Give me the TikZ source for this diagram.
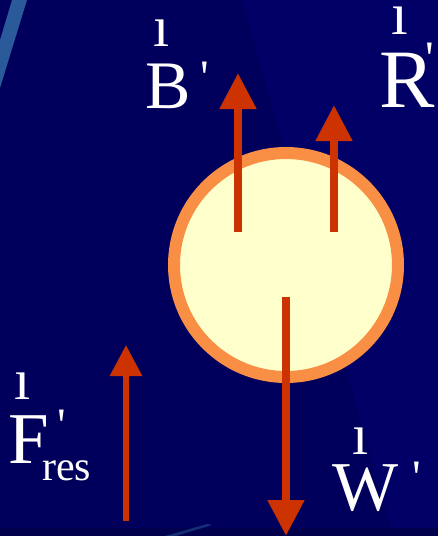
\documentclass[tikz,border=0pt]{standalone}
\usepackage{fontspec}
\setmainfont{Liberation Serif}
\newfontfamily\primefont{Liberation Serif}[Ligatures=TeXOff]
\usepackage{tikz}
\usetikzlibrary{
    arrows.meta
}
\tikzset{
  ball/.style    = {circle, draw=ballEdge, fill=ballFill, line width=12pt,
                    minimum size=224pt, inner sep=0pt},
  force/.style   = {-{Triangle[width=35pt,length=36pt]}, line width=8pt, forceRed},
  sforce/.style  = {-{Triangle[width=31pt,length=31pt]}, line width=6pt, forceRed},
  lbl/.style     = {text=white, inner sep=0pt, anchor=base west},
  vecbar/.style  = {text=white, inner sep=0pt, anchor=south,
                    font=\fontsize{58}{58}\selectfont},
  prime/.style   = {text=white, inner sep=0pt, anchor=north,
                    font=\primefont\fontsize{48}{48}\selectfont}
}
\definecolor{navy}{RGB}{0,0,102}
\definecolor{navyDark}{RGB}{0,0,92}
\definecolor{navyDeep}{RGB}{0,0,76}
\definecolor{streak}{RGB}{42,90,154}
\definecolor{ballEdge}{RGB}{249,143,69}
\definecolor{ballFill}{RGB}{255,255,204}
\definecolor{forceRed}{RGB}{204,51,0}

\begin{document}
\begin{tikzpicture}[x=1pt,y=-1pt]
% background
\fill[navy] (0,0) rectangle (438,536);
\fill[navyDark] (0,0) -- (242,0) -- (393,536) -- (0,536) -- cycle;
\fill[navyDeep] (0,528) rectangle (438,536);
\fill[streak] (12,0) -- (27,0) -- (0,88) -- (0,40) -- cycle;
\fill[streak, opacity=0.5] (165,536) -- (207,524) -- (212,525) -- (176,536) -- cycle;
\useasboundingbox (0,0) rectangle (438,536);

\node[ball] (ball) at (286,265) {};

\coordinate (Bfoot) at (238,232);
\coordinate (Btip)  at (238,73);
\coordinate (Rfoot) at (334,232);
\coordinate (Rtip)  at (334,105);
\coordinate (Wfoot) at (286,297);
\coordinate (Wtip)  at (286,536);
\coordinate (Ffoot) at (126,521);
\coordinate (Ftip)  at (126,345);
\draw[force] (Bfoot) -- (Btip);
\draw[force] (Rfoot) -- (Rtip);
\draw[force] (Wfoot) -- (Wtip);
\draw[sforce] (Ffoot) -- (Ftip);

% labels
\node[lbl, font=\fontsize{68}{68}\selectfont] (B) at (145,108) {B};
\node[vecbar] (Bbar) at (162,47) {ı};
\node[prime] (Bprime) at (205,62) {'};

\node[lbl, font=\fontsize{83}{83}\selectfont] (R) at (379,107) {R};
\node[vecbar, font=\fontsize{60}{60}\selectfont] (Rbar) at (400,35) {ı};
\node[prime] (Rprime) at (430,43) {'};

\node[lbl, font=\fontsize{73}{73}\selectfont] (F) at (8,463) {F};
\node[lbl, font=\fontsize{42}{42}\selectfont] (Fres) at (42,480) {res};
\node[vecbar] (Fbar) at (23,400) {ı};
\node[prime] (Fprime) at (62,410) {'};

\node[lbl, font=\fontsize{70}{70}\selectfont] (W) at (332,510) {W};
\node[vecbar] (Wbar) at (361,455) {ı};
\node[prime] (Wprime) at (417,462) {'};
\end{tikzpicture}
\end{document}
